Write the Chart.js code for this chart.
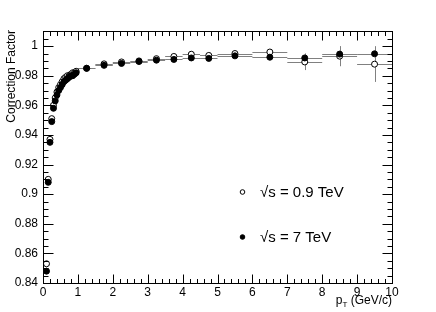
<!DOCTYPE html>
<html>
<head>
<meta charset="utf-8">
<script src="https://cdn.jsdelivr.net/npm/chart.js@4"></script>
<style>
  html, body { margin: 0; padding: 0; background: #fff; }
  #wrap { width: 436px; height: 312px; }
</style>
</head>
<body>
<div id="wrap"><canvas id="cf" width="436" height="312"></canvas></div>
<script>
// pT bin centres and full bin widths (GeV/c)
const ptCenters = [0.1, 0.15, 0.2, 0.25, 0.3, 0.35, 0.4, 0.45, 0.5, 0.55, 0.6, 0.65, 0.7, 0.75, 0.8, 0.85, 0.9, 0.95,
  1.25, 1.75, 2.25, 2.75, 3.25, 3.75, 4.25, 4.75, 5.5, 6.5, 7.5, 8.5, 9.5];
const ptWidths = [0.05, 0.05, 0.05, 0.05, 0.05, 0.05, 0.05, 0.05, 0.05, 0.05, 0.05, 0.05, 0.05, 0.05, 0.05, 0.05, 0.05, 0.05,
  0.5, 0.5, 0.5, 0.5, 0.5, 0.5, 0.5, 0.5, 1, 1, 1, 1, 1];

// sqrt(s) = 0.9 TeV (open markers)
const corr09 = [0.853, 0.910, 0.937, 0.951, 0.960, 0.965, 0.969, 0.972, 0.974, 0.976, 0.978, 0.979, 0.980, 0.980, 0.981, 0.982, 0.982, 0.983,
  0.985, 0.988, 0.9893, 0.990, 0.9915, 0.993, 0.9945, 0.9937, 0.995, 0.996, 0.9893, 0.9932, 0.9878];
const err09 = [0.0005, 0.0005, 0.0005, 0.0005, 0.0005, 0.0005, 0.0005, 0.0005, 0.0005, 0.0005, 0.0005, 0.0005, 0.0005, 0.0005, 0.0005, 0.0005, 0.0005, 0.0005,
  0.0005, 0.0005, 0.0005, 0.0005, 0.0006, 0.0007, 0.0008, 0.001, 0.0012, 0.002, 0.0055, 0.0068, 0.012];

// sqrt(s) = 7 TeV (filled markers)
const corr7 = [0.848, 0.908, 0.935, 0.949, 0.958, 0.963, 0.967, 0.970, 0.972, 0.974, 0.976, 0.977, 0.978, 0.979, 0.980, 0.980, 0.981, 0.982,
  0.985, 0.987, 0.9883, 0.9896, 0.9905, 0.991, 0.992, 0.9917, 0.9934, 0.9925, 0.992, 0.9946, 0.9948];
const err7 = [0.0003, 0.0003, 0.0003, 0.0003, 0.0003, 0.0003, 0.0003, 0.0003, 0.0003, 0.0003, 0.0003, 0.0003, 0.0003, 0.0003, 0.0003, 0.0003, 0.0003, 0.0003,
  0.0003, 0.0003, 0.0003, 0.0003, 0.0004, 0.0004, 0.0005, 0.0006, 0.0008, 0.0012, 0.003, 0.004, 0.005];

const seriesLabels = ['\u221As = 0.9 TeV', '\u221As = 7 TeV'];
const xTitle = 'p';
const xTitleSub = 'T';
const xTitleRest = ' (GeV/c)';
const yTitle = 'Correction Factor';

const FONT = '"Liberation Sans", Arial, Helvetica, sans-serif';

function toPoints(vals, errs) {
  return ptCenters.map((x, i) => ({ x: x, y: vals[i], w: ptWidths[i], e: errs[i] }));
}

// horizontal (bin width) and vertical error bars
const errorBars = {
  id: 'errorBars',
  beforeDatasetsDraw(chart) {
    const ctx = chart.ctx;
    const xs = chart.scales.x, ys = chart.scales.y;
    ctx.save();
    ctx.strokeStyle = '#808080';
    ctx.lineWidth = 1;
    chart.data.datasets.forEach(ds => {
      ds.data.forEach(p => {
        const py = Math.round(ys.getPixelForValue(p.y)) + 0.5;
        const px = Math.round(xs.getPixelForValue(p.x)) + 0.5;
        ctx.beginPath();
        ctx.moveTo(xs.getPixelForValue(p.x - p.w / 2), py);
        ctx.lineTo(xs.getPixelForValue(p.x + p.w / 2), py);
        ctx.moveTo(px, ys.getPixelForValue(p.y - p.e));
        ctx.lineTo(px, ys.getPixelForValue(p.y + p.e));
        ctx.stroke();
      });
    });
    ctx.restore();
  }
};

// ROOT-like frame with inward ticks, axis titles and legend
const frame = {
  id: 'frame',
  afterDraw(chart) {
    const ctx = chart.ctx;
    const a = chart.chartArea;
    const xs = chart.scales.x, ys = chart.scales.y;
    const L = Math.round(a.left) + 0.5, R = Math.round(a.right) + 0.5;
    const T = Math.round(a.top) + 0.5, B = Math.round(a.bottom) + 0.5;
    ctx.save();
    ctx.strokeStyle = '#000';
    ctx.lineWidth = 1;
    ctx.strokeRect(L, T, R - L, B - T);

    ctx.beginPath();
    // x ticks: major every 1, minor every 0.2
    for (let i = 0; i <= 50; i++) {
      const v = i * 0.2;
      const px = Math.round(xs.getPixelForValue(v)) + 0.5;
      const len = i % 5 === 0 ? 9 : 4.5;
      ctx.moveTo(px, B); ctx.lineTo(px, B - len);
      ctx.moveTo(px, T); ctx.lineTo(px, T + len);
    }
    // y ticks: major every 0.02, minor every 0.005
    for (let i = 0; i <= 34; i++) {
      const v = 0.84 + i * 0.005;
      if (v > ys.max + 1e-9) break;
      const py = Math.round(ys.getPixelForValue(v)) + 0.5;
      const len = i % 4 === 0 ? 10 : 5;
      ctx.moveTo(L, py); ctx.lineTo(L + len, py);
      ctx.moveTo(R, py); ctx.lineTo(R - len, py);
    }
    ctx.stroke();

    // axis titles
    ctx.fillStyle = '#000';
    ctx.font = '12px ' + FONT;
    ctx.textBaseline = 'alphabetic';
    ctx.textAlign = 'right';
    const restW = ctx.measureText(xTitleRest).width;
    ctx.fillText(xTitleRest, a.right, 304);
    ctx.font = '8px ' + FONT;
    const subW = ctx.measureText(xTitleSub).width;
    ctx.fillText(xTitleSub, a.right - restW, 307);
    ctx.font = '12px ' + FONT;
    ctx.fillText(xTitle, a.right - restW - subW, 304);

    ctx.translate(15, a.top - 1);
    ctx.rotate(-Math.PI / 2);
    ctx.textAlign = 'right';
    ctx.fillText(yTitle, 0, 0);
    ctx.setTransform(1, 0, 0, 1, 0, 0);

    // legend
    const items = [
      { y: 192, fill: '#fff', label: seriesLabels[0] },
      { y: 237, fill: '#000', label: seriesLabels[1] }
    ];
    ctx.font = '15px ' + FONT;
    ctx.textAlign = 'left';
    ctx.textBaseline = 'middle';
    items.forEach(it => {
      ctx.beginPath();
      ctx.arc(242.5, it.y, 2.3, 0, Math.PI * 2);
      ctx.fillStyle = it.fill;
      ctx.fill();
      ctx.strokeStyle = '#000';
      ctx.stroke();
      ctx.fillStyle = '#000';
      ctx.fillText(it.label, 260, it.y + 1);
    });
    ctx.restore();
  }
};

new Chart(document.getElementById('cf'), {
  type: 'scatter',
  data: {
    datasets: [
      {
        label: seriesLabels[1],
        data: toPoints(corr7, err7),
        pointStyle: 'circle',
        pointRadius: 3,
        pointBackgroundColor: '#000',
        pointBorderColor: '#000',
        pointBorderWidth: 1,
        showLine: false
      },
      {
        label: seriesLabels[0],
        data: toPoints(corr09, err09),
        pointStyle: 'circle',
        pointRadius: 3,
        pointBackgroundColor: '#fff',
        pointBorderColor: '#000',
        pointBorderWidth: 1,
        showLine: false
      }
    ]
  },
  options: {
    responsive: false,
    animation: false,
    events: [],
    layout: { padding: { top: 31, right: 44, left: 0, bottom: 0 } },
    plugins: { legend: { display: false }, tooltip: { enabled: false } },
    scales: {
      x: {
        type: 'linear',
        min: 0, max: 10,
        grid: { display: false, drawTicks: false },
        border: { display: false },
        ticks: {
          stepSize: 1, padding: 2, color: '#000',
          font: { family: FONT, size: 12 },
          maxRotation: 0, autoSkip: false
        },
        afterFit(scale) { scale.height = 29; }
      },
      y: {
        type: 'linear',
        min: 0.84, max: 1.0102,
        grid: { display: false, drawTicks: false },
        border: { display: false },
        ticks: {
          stepSize: 0.02, padding: 5, color: '#000',
          font: { family: FONT, size: 12 },
          autoSkip: false,
          callback: v => Number(v.toFixed(2)).toString()
        },
        afterBuildTicks(scale) {
          // drop the range-end tick above 1
          scale.ticks = scale.ticks.filter(t => t.value <= 1.0001);
        },
        afterFit(scale) { scale.width = 43; }
      }
    }
  },
  plugins: [errorBars, frame]
});
</script>
</body>
</html>
